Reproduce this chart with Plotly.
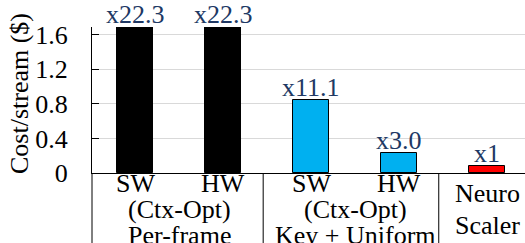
import plotly.graph_objects as go

# Data
bar_ids = [0, 1, 2, 3, 4]
values = [1.69, 1.69, 0.845, 0.23, 0.076]
ratio_labels = ["x22.3", "x22.3", "x11.1", "x3.0", "x1"]
bar_colors = ["#000000", "#000000", "#00B0F0", "#00B0F0", "#FF0000"]
sub_labels = ["SW", "HW", "SW", "HW"]
group_line1 = ["(Ctx-Opt)", "(Ctx-Opt)"]
group_line2 = ["Per-frame", "Key + Uniform"]
group_centers = [0.5, 2.5]
last_label = ["Neuro", "Scaler"]
y_ticks = [0, 0.4, 0.8, 1.2, 1.6]
y_tick_text = ["0", "0.4", "0.8", "1.2", "1.6"]

FONT = "Liberation Serif, 'Times New Roman', Times, serif"
FS = 26
W, H = 525, 243
L, R, T, B = 92, 0, 27, 70
PH = H - T - B

fig = go.Figure()
fig.add_trace(go.Bar(
    x=bar_ids, y=values, width=0.41,
    marker=dict(color=bar_colors, line=dict(color="#000000", width=1)),
    showlegend=False, cliponaxis=False,
))

ann = []
for i, (v, t) in enumerate(zip(values, ratio_labels)):
    ann.append(dict(x=i, y=v, xref="x", yref="y", text=t, showarrow=False,
                    yanchor="bottom", yshift=-4,
                    font=dict(family=FONT, size=FS, color="#203864")))

def py(pix):
    # pixel y (from top) to paper y
    return (H - B - pix) / PH

for i, t in enumerate(sub_labels):
    ann.append(dict(x=i, y=py(183), xref="x", yref="paper", text=t, showarrow=False,
                    yanchor="middle", font=dict(family=FONT, size=FS, color="#000000")))
for c, t1, t2 in zip(group_centers, group_line1, group_line2):
    ann.append(dict(x=c, y=py(209), xref="x", yref="paper", text=t1, showarrow=False,
                    yanchor="middle", font=dict(family=FONT, size=FS, color="#000000")))
    ann.append(dict(x=c, y=py(235), xref="x", yref="paper", text=t2, showarrow=False,
                    yanchor="middle", font=dict(family=FONT, size=FS, color="#000000")))
for j, t in enumerate(last_label):
    ann.append(dict(x=4, y=py(193 + 32 * j), xref="x", yref="paper", text=t, showarrow=False,
                    yanchor="middle", font=dict(family=FONT, size=FS, color="#000000")))

ann.append(dict(x=(20 - L) / (W - L - R), y=py(94), xref="paper", yref="paper",
                text="Cost/stream ($)", textangle=-90, showarrow=False,
                xanchor="center", yanchor="middle",
                font=dict(family=FONT, size=FS, color="#000000")))

shapes = [
    dict(type="line", xref="paper", yref="paper", x0=0, x1=0, y0=0, y1=-B / PH,
         line=dict(color="#000000", width=1)),
    dict(type="line", xref="x", yref="paper", x0=1.455, x1=1.455, y0=0, y1=-B / PH,
         line=dict(color="#000000", width=1)),
    dict(type="line", xref="x", yref="paper", x0=3.45, x1=3.45, y0=0, y1=-B / PH,
         line=dict(color="#000000", width=1)),
]

fig.update_layout(
    width=W, height=H,
    margin=dict(l=L, r=R, t=T, b=B, pad=0),
    paper_bgcolor="white", plot_bgcolor="white",
    annotations=ann, shapes=shapes,
    bargap=0,
    xaxis=dict(range=[-0.49, 4.43], showticklabels=False, ticks="",
               showgrid=False, zeroline=False, showline=True,
               linecolor="#000000", linewidth=1, fixedrange=True),
    yaxis=dict(range=[0, 1.69], tickvals=y_ticks, ticktext=y_tick_text,
               ticks="inside", ticklen=7, tickcolor="#000000", tickwidth=1,
               showgrid=True, gridcolor="#D9D9D9", gridwidth=1,
               zeroline=False, showline=True, linecolor="#000000", linewidth=1,
               ticklabelstandoff=18,
               tickfont=dict(family=FONT, size=FS, color="#000000")),
)

fig.write_html("out.html", config={"displayModeBar": False},
               post_script="document.body.style.margin='0';document.body.style.overflow='hidden';")
